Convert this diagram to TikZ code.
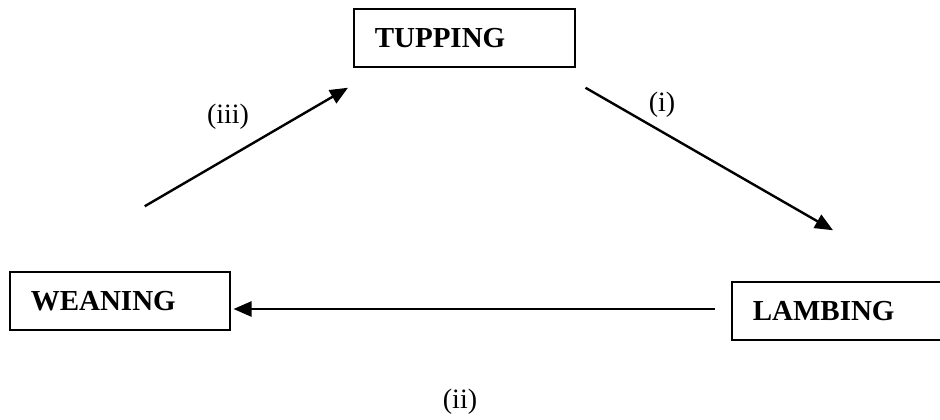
\documentclass[tikz,border=0pt]{standalone}
\usepackage{fontspec}
\setmainfont{Liberation Serif}
\usepackage{tikz}
\usetikzlibrary{arrows.meta,positioning}
\tikzstyle{arrow} = [line width=2.4pt,-{Triangle[length=18pt,width=15pt]}]
\tikzstyle{stagebox} = [rectangle, draw=black, line width=1.5pt, minimum height=58pt, inner xsep=21pt, anchor=west, font=\fontsize{29}{31}\selectfont\bfseries]
\tikzstyle{steplabel} = [font=\fontsize{28}{30}\selectfont]

\begin{document}
\begin{tikzpicture}[x=1pt,y=1pt]
\useasboundingbox (0,0) rectangle (940,-420);
% Stages
\node[stagebox, minimum width=221pt, text width=179pt] (tup) at (353,-38) {TUPPING};
\node[stagebox, minimum width=220pt, text width=178pt] (wean) at (9,-301) {WEANING};
\node[stagebox, minimum width=221pt, text width=179pt] (lamb) at (731,-311) {LAMBING};

% Arrows
\draw[arrow] ([xshift=10pt,yshift=-20pt]tup.south east) -- ([xshift=102pt,yshift=51pt]lamb.north west);
\draw[arrow] ([xshift=-16pt,yshift=2pt]lamb.west) -- ([xshift=3pt,yshift=-8pt]wean.east);
\draw[arrow] ([xshift=25pt,yshift=65pt]wean.north) -- ([xshift=-5pt,yshift=-20pt]tup.south west);

% Labels
\node[steplabel] (l1) at (662,-105) {(i)};
\node[steplabel] (l2) at (460,-402) {(ii)};
\node[steplabel] (l3) at (228,-117) {(iii)};
\end{tikzpicture}
\end{document}
